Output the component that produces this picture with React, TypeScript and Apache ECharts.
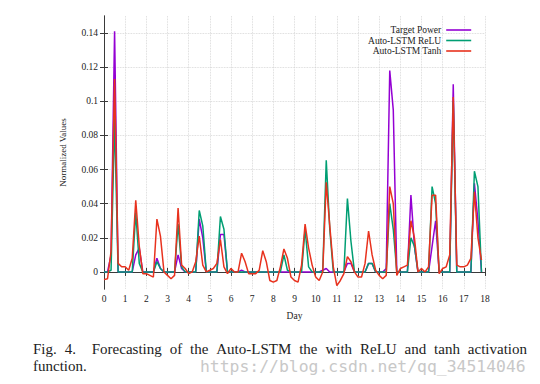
import React, { useEffect, useRef } from 'react';
import * as echarts from 'echarts';

const seriesNames = ['Target Power', 'Auto-LSTM ReLU', 'Auto-LSTM Tanh'];
const seriesColors = ['#9400d3', '#009e73', '#e8321e'];
const stepsPerDay = 6;
const xTicks = [0, 1, 2, 3, 4, 5, 6, 7, 8, 9, 10, 11, 12, 13, 14, 15, 16, 17, 18];
const yTicks = [0, 0.02, 0.04, 0.06, 0.08, 0.1, 0.12, 0.14];

const targetPower = [
  0, 0, 0.01, 0.141, 0, 0,
  0, 0, 0, 0.01, 0.014, 0,
  0, 0, 0, 0.008, 0.002, 0,
  0, 0, 0, 0.01, 0.002, 0,
  0, 0, 0, 0.031, 0.02, 0,
  0, 0, 0, 0.022, 0.022, 0,
  0, 0, 0, 0.001, 0, 0,
  0, 0, 0, 0, 0, 0,
  0, 0, 0, 0, 0, 0,
  0, 0, 0, 0, 0, 0,
  0, 0, 0.001, 0.002, 0, 0,
  0, 0, 0, 0.005, 0.005, 0,
  0, 0, 0, 0.005, 0.005, 0,
  0, 0, 0.002, 0.118, 0.095, 0,
  0, 0, 0, 0.045, 0.015, 0,
  0, 0, 0, 0.015, 0.03, 0,
  0, 0, 0, 0.11, 0, 0,
  0, 0, 0, 0.052, 0.03, 0,
];

const reluForecast = [
  0, 0, 0.001, 0.09, 0, 0,
  0, 0, 0, 0.035, 0.005, 0,
  0, 0, 0, 0.006, 0.002, 0,
  0, 0, 0, 0.028, 0.003, 0,
  0, 0, 0, 0.036, 0.027, 0,
  0, 0, 0, 0.0325, 0.025, 0,
  0, 0, 0, 0, 0, 0,
  0, 0, 0, 0, 0, 0,
  0, 0, 0, 0.01, 0.001, 0,
  0, 0, 0, 0.025, 0.003, 0,
  0, 0, 0, 0.0655, 0.025, 0,
  0, 0, 0, 0.043, 0.018, 0,
  0, 0, 0, 0.005, 0.005, 0,
  0, 0, 0, 0.04, 0.025, 0,
  0, 0, 0, 0.02, 0.015, 0,
  0, 0, 0, 0.05, 0.04, 0,
  0, 0, 0, 0.1, 0, 0,
  0, 0, 0, 0.059, 0.05, 0,
];

const tanhForecast = [
  -0.0045, -0.004, 0.012, 0.113, 0.005, 0.003,
  0.003, 0.001, 0.008, 0.042, 0.015, -0.001,
  -0.001, -0.002, -0.003, 0.031, 0.021, 0.0,
  -0.002, -0.004, -0.002, 0.0375, 0.004, 0.002,
  -0.001, 0.0, 0.006, 0.021, 0.004, 0.0,
  0.001, 0.002, 0.005, 0.019, 0.003, -0.001,
  0.002, 0.0, 0.0, 0.011, 0.006, -0.001,
  -0.001, -0.001, 0.001, 0.0125, 0.006, -0.005,
  -0.006, -0.005, 0.003, 0.0135, 0.008, -0.003,
  -0.005, -0.006, 0.004, 0.028, 0.014, 0.004,
  -0.003, -0.005, 0.0, 0.0525, 0.027, 0.003,
  -0.008, -0.005, -0.001, 0.009, 0.006, 0.0,
  -0.003, -0.003, 0.005, 0.024, 0.01, 0.001,
  -0.002, -0.004, -0.002, 0.05, 0.04, -0.002,
  0.002, 0.003, 0.004, 0.03, 0.02, 0.0,
  0.002, 0.0, 0.003, 0.045, 0.045, -0.001,
  0.002, 0.003, 0.01, 0.1025, 0.004, 0.003,
  0.003, 0.004, 0.008, 0.047, 0.02, 0.007,
];

const captionWords = ['Fig.', '4.', 'Forecasting', 'of', 'the', 'Auto-LSTM', 'the', 'with', 'ReLU', 'and', 'tanh', 'activation'];
const captionLine2 = 'function.';
const watermark = 'https://blog.csdn.net/qq_34514046';

const toPairs = (arr: number[]) => arr.map((v, i) => [i / stepsPerDay, v]);

const serif = 'Liberation Serif';
const axisColor = '#3a3a3a';
const captionFont = `15px "${serif}"`;

function justifiedWords(words: string[], x0: number, x1: number, y: number) {
  const ctx = document.createElement('canvas').getContext('2d')!;
  ctx.font = captionFont;
  const widths = words.map((w) => ctx.measureText(w).width);
  const total = widths.reduce((a, b) => a + b, 0);
  const weights = words.slice(0, -1).map((_, i) => (i === 1 ? 2 : 1));
  const wsum = weights.reduce((a, b) => a + b, 0);
  const unit = (x1 - x0 - total) / wsum;
  let x = x0;
  return words.map((w, i) => {
    const el = {
      type: 'text', x, y,
      style: { text: w, font: captionFont, fill: '#222', verticalAlign: 'middle' },
    };
    x += widths[i] + (i < weights.length ? weights[i] * unit : 0);
    return el;
  });
}

export default function App() {
  const ref = useRef<HTMLDivElement>(null);
  useEffect(() => {
    document.body.style.margin = '0';
    const chart = echarts.init(ref.current!, null, { renderer: 'svg' });
    const gridLine = { show: true, lineStyle: { color: '#d0d0d0', type: 'dotted' as const, width: 0.8 } };
    const baseAxisLine = { show: true, lineStyle: { color: axisColor, width: 1 } };
    chart.setOption({
      animation: false,
      backgroundColor: '#ffffff',
      textStyle: { fontFamily: serif },
      grid: { left: 104, right: 55, top: 16, bottom: 95 },
      legend: {
        orient: 'vertical',
        right: 63,
        top: 20,
        align: 'right',
        itemWidth: 25,
        itemHeight: 8,
        itemGap: 0.5,
        itemStyle: { opacity: 0 },
        lineStyle: { width: 1.6 },
        textStyle: { fontFamily: serif, fontSize: 9.5, color: '#222', padding: [0, 0, 0, 0] },
        data: seriesNames,
      },
      xAxis: [
        {
          type: 'value', min: 0, max: 18, interval: 1,
          name: 'Day', nameLocation: 'middle', nameGap: 22,
          nameTextStyle: { fontFamily: serif, fontSize: 9.5, color: '#222' },
          axisLine: baseAxisLine,
          axisTick: { show: true, inside: true, length: 4, lineStyle: { color: axisColor } },
          axisLabel: { fontFamily: serif, fontSize: 9.5, color: '#222', margin: 5,
            formatter: (v: number) => (xTicks.includes(v) ? String(v) : '') },
          splitLine: gridLine,
        },
        {
          type: 'value', min: 0, max: 18, interval: 1, position: 'top',
          axisLine: baseAxisLine,
          axisTick: { show: true, inside: true, length: 4, lineStyle: { color: axisColor } },
          axisLabel: { show: false },
          splitLine: { show: false },
        },
      ],
      yAxis: [
        {
          type: 'value', min: -0.01, max: 0.15,
          name: 'Normalized Values', nameLocation: 'middle', nameGap: 37, nameRotate: 90,
          nameTextStyle: { fontFamily: serif, fontSize: 9, color: '#222' },
          axisLine: baseAxisLine,
          axisTick: { show: true, inside: true, length: 4, lineStyle: { color: axisColor }, customValues: yTicks },
          axisLabel: { fontFamily: serif, fontSize: 9.5, color: '#222', margin: 6, customValues: yTicks,
            formatter: (v: number) => String(v) },
          splitLine: gridLine,
        },
        {
          type: 'value', min: -0.01, max: 0.15, position: 'right',
          axisLine: baseAxisLine,
          axisTick: { show: true, inside: true, length: 4, lineStyle: { color: axisColor }, customValues: yTicks },
          axisLabel: { show: false, customValues: yTicks },
          splitLine: { show: false },
        },
      ],
      series: [targetPower, reluForecast, tanhForecast].map((arr, k) => ({
        name: seriesNames[k],
        type: 'line',
        xAxisIndex: 0,
        yAxisIndex: 0,
        data: toPairs(arr),
        symbol: 'none',
        color: seriesColors[k],
        lineStyle: { color: seriesColors[k], width: 1.5 },
        z: 2 + k,
      })),
      graphic: [
        ...justifiedWords(captionWords, 33, 527, 349),
        { type: 'text', x: 33, y: 366, style: { text: captionLine2, font: captionFont, fill: '#222', verticalAlign: 'middle' } },
        { type: 'text', x: 200, y: 366, style: { text: watermark, font: '16.4px "DejaVu Sans Mono"', fill: '#c8c8c8', verticalAlign: 'middle' } },
      ],
    });
    return () => chart.dispose();
  }, []);
  return <div ref={ref} style={{ position: 'absolute', left: 0, top: 0, width: 540, height: 384 }} />;
}
